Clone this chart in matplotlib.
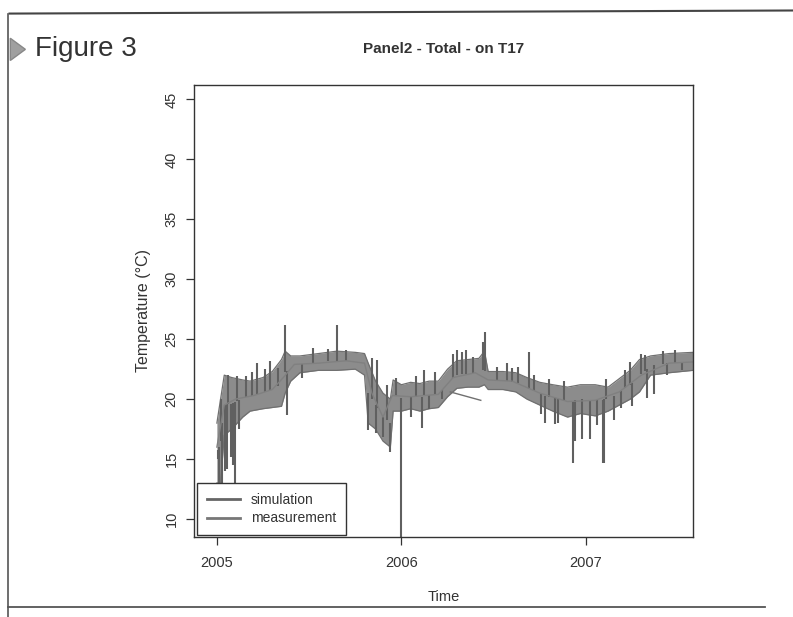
import numpy as np
import matplotlib
matplotlib.use("Agg")
from matplotlib import pyplot as plt
from matplotlib.lines import Line2D
from matplotlib.patches import Polygon

plt.rcParams["font.family"] = ["Liberation Sans", "DejaVu Sans"]

# envelope of the dense measurement band (decimal years, degC)
band_t = [2005.00, 2005.02, 2005.04, 2005.08, 2005.14, 2005.18, 2005.25, 2005.30,
          2005.35, 2005.37, 2005.40, 2005.45, 2005.55, 2005.65, 2005.75, 2005.80,
          2005.82, 2005.86, 2005.90, 2005.94, 2005.955, 2006.00, 2006.05, 2006.10,
          2006.15, 2006.20, 2006.25, 2006.30, 2006.36, 2006.42, 2006.45, 2006.47,
          2006.55, 2006.62, 2006.68, 2006.75, 2006.82, 2006.90, 2006.97, 2007.05,
          2007.12, 2007.18, 2007.24, 2007.29, 2007.35, 2007.45, 2007.58]
band_lo = [13.0, 13.0, 17.0, 17.5, 18.5, 19.0, 19.2, 19.3,
           19.4, 20.5, 21.5, 22.2, 22.4, 22.4, 22.5, 22.0,
           18.0, 17.5, 16.5, 16.0, 19.0, 19.0, 19.2, 19.0,
           19.2, 19.3, 20.2, 20.9, 21.0, 21.0, 21.2, 20.8,
           20.8, 20.6, 20.0, 19.5, 19.0, 18.5, 18.8, 18.6,
           19.0, 19.5, 20.0, 20.6, 22.0, 22.2, 22.4]
band_hi = [18.0, 20.0, 22.0, 21.8, 21.6, 21.5, 21.8, 22.3,
           23.3, 24.0, 23.6, 23.6, 23.8, 24.0, 23.9, 23.8,
           23.0, 21.5, 20.5, 20.0, 21.6, 21.2, 21.4, 21.3,
           21.5, 21.5, 22.5, 23.2, 23.3, 23.4, 24.0, 22.3,
           22.3, 22.2, 21.8, 21.4, 21.2, 21.0, 21.2, 21.2,
           21.0, 21.7, 22.4, 23.3, 23.6, 23.8, 23.9]

# isolated spikes in the measurement (decimal years, degC)
spike_t = [2005.005, 2005.01, 2005.03, 2005.045, 2005.055, 2005.075, 2005.09, 2005.10,
           2005.12, 2005.02, 2005.06, 2005.11, 2005.16, 2005.19,
           2005.22, 2005.26, 2005.29, 2005.33, 2005.37, 2005.38, 2005.46, 2005.52,
           2005.60, 2005.65, 2005.70,
           2005.82, 2005.84, 2005.86, 2005.87, 2005.90, 2005.92, 2005.94, 2006.00,
           2005.97, 2006.05, 2006.08, 2006.11, 2006.12, 2006.15, 2006.18, 2006.22,
           2006.28, 2006.30, 2006.33, 2006.35, 2006.39, 2006.44, 2006.455,
           2006.52, 2006.57, 2006.60, 2006.63, 2006.69, 2006.72,
           2006.755, 2006.78, 2006.80, 2006.83, 2006.85, 2006.88, 2006.93, 2006.94,
           2006.98, 2007.02, 2007.06, 2007.09, 2007.10, 2007.11, 2007.15, 2007.19,
           2007.21, 2007.24, 2007.25, 2007.30, 2007.32, 2007.33, 2007.37, 2007.42,
           2007.44, 2007.48, 2007.52]
spike_v = [15.0, 12.0, 12.0, 14.0, 14.2, 15.2, 14.5, 12.0,
           17.5, 20.0, 22.0, 21.9, 21.9, 22.3,
           23.0, 22.5, 23.2, 22.6, 26.2, 18.7, 21.8, 24.3,
           24.2, 26.2, 24.1,
           17.4, 23.4, 17.2, 23.3, 16.8, 21.2, 15.6, 8.0,
           21.8, 18.5, 21.9, 17.6, 22.4, 19.2, 22.3, 20.0,
           23.8, 24.1, 23.9, 24.1, 23.5, 24.8, 25.6,
           22.7, 23.0, 22.6, 22.7, 23.9, 22.0,
           18.8, 18.0, 21.7, 17.9, 18.0, 21.5, 14.7, 16.5,
           16.7, 16.7, 17.8, 14.7, 14.7, 21.7, 18.3, 19.3,
           22.4, 23.1, 19.4, 23.8, 23.7, 20.1, 20.4, 24.0,
           22.0, 24.1, 22.4]

# straight segment across a data gap in mid 2006
gap_t = [2006.265, 2006.43]
gap_v = [20.6, 19.9]

# simulation (runs inside the measured band)
sim_t = [2005.00, 2005.04, 2005.10, 2005.20, 2005.30, 2005.36, 2005.42, 2005.55,
         2005.70, 2005.80, 2005.84, 2005.90, 2005.95, 2006.05, 2006.20, 2006.28,
         2006.40, 2006.47, 2006.60, 2006.75, 2006.90, 2007.05, 2007.18, 2007.30,
         2007.45, 2007.58]
sim_v = [16.0, 19.5, 20.0, 20.3, 20.8, 21.8, 22.9, 23.0,
         23.2, 23.0, 20.5, 18.5, 20.3, 20.2, 20.4, 21.8,
         22.2, 21.6, 21.5, 20.5, 19.8, 19.9, 20.6, 22.0,
         23.0, 23.1]

fig = plt.figure(figsize=(7.93, 6.17), dpi=100)
ax = fig.add_axes([194 / 793, 1 - 537 / 617, 499 / 793, 452 / 617])

grey = "#8c8c8c"
ax.fill_between(band_t, band_lo, band_hi, color=grey, linewidth=0)
ax.plot(band_t, band_hi, color="#707070", linewidth=0.9)
ax.plot(band_t, band_lo, color="#707070", linewidth=0.9)
base = (np.interp(spike_t, band_t, band_lo) + np.interp(spike_t, band_t, band_hi)) / 2
ax.vlines(spike_t, base, spike_v, color="#606060", linewidth=1.5)
ax.plot(gap_t, gap_v, color="#707070", linewidth=1.0)
ax.plot(sim_t, sim_v, color="#808080", linewidth=1.0)

ax.set_xlim(2004.876, 2007.58)
ax.set_ylim(8.5, 46.2)
ax.set_xticks([2005, 2006, 2007])
ax.set_xticklabels(["2005", "2006", "2007"])
ax.set_yticks([10, 15, 20, 25, 30, 35, 40, 45])
ax.tick_params(axis="both", direction="out", length=6, width=0.9,
               labelsize=10.5, colors="#333333")
ax.tick_params(axis="x", pad=8)
ax.tick_params(axis="y", pad=5)
for lab in ax.get_yticklabels():
    lab.set_rotation(90)
    lab.set_va("center")
for s in ax.spines.values():
    s.set_linewidth(1.0)
    s.set_color("#333333")

ax.set_xlabel("Time", fontsize=10.5, color="#333333", labelpad=14)
ax.set_ylabel("Temperature (\u00b0C)", fontsize=11.5, color="#333333", labelpad=10)
ax.set_title("Panel2 - Total - on T17", fontsize=11, fontweight="bold",
             color="#333333", pad=23)

handles = [Line2D([], [], color="#666666", linewidth=2),
           Line2D([], [], color="#777777", linewidth=2)]
leg = ax.legend(handles, ["simulation", "measurement"], loc="lower left",
                bbox_to_anchor=(0.006, 0.004), borderaxespad=0, fancybox=False,
                framealpha=1, edgecolor="#333333", fontsize=10, handlelength=2.4,
                labelspacing=0.35, borderpad=0.7)
leg.get_frame().set_linewidth(1.0)
for t in leg.get_texts():
    t.set_color("#333333")

# scanned page frame and heading
fig.add_artist(Line2D([0.012, 1.0], [0.978, 0.983], transform=fig.transFigure,
                      color="#444444", linewidth=1.5))
fig.add_artist(Line2D([0.010, 0.010], [0.978, 0.0], transform=fig.transFigure,
                      color="#555555", linewidth=1.2))
fig.add_artist(Line2D([0.010, 0.965], [0.016, 0.016], transform=fig.transFigure,
                      color="#555555", linewidth=1.3))
fig.add_artist(Polygon([[0.013, 0.938], [0.032, 0.92], [0.013, 0.902]],
                       closed=True, transform=fig.transFigure,
                       facecolor="#a0a0a0", edgecolor="#888888"))
fig.text(0.044, 0.920, "Figure 3", fontsize=20, color="#333333", va="center")

fig.savefig("out.png", dpi=100)
